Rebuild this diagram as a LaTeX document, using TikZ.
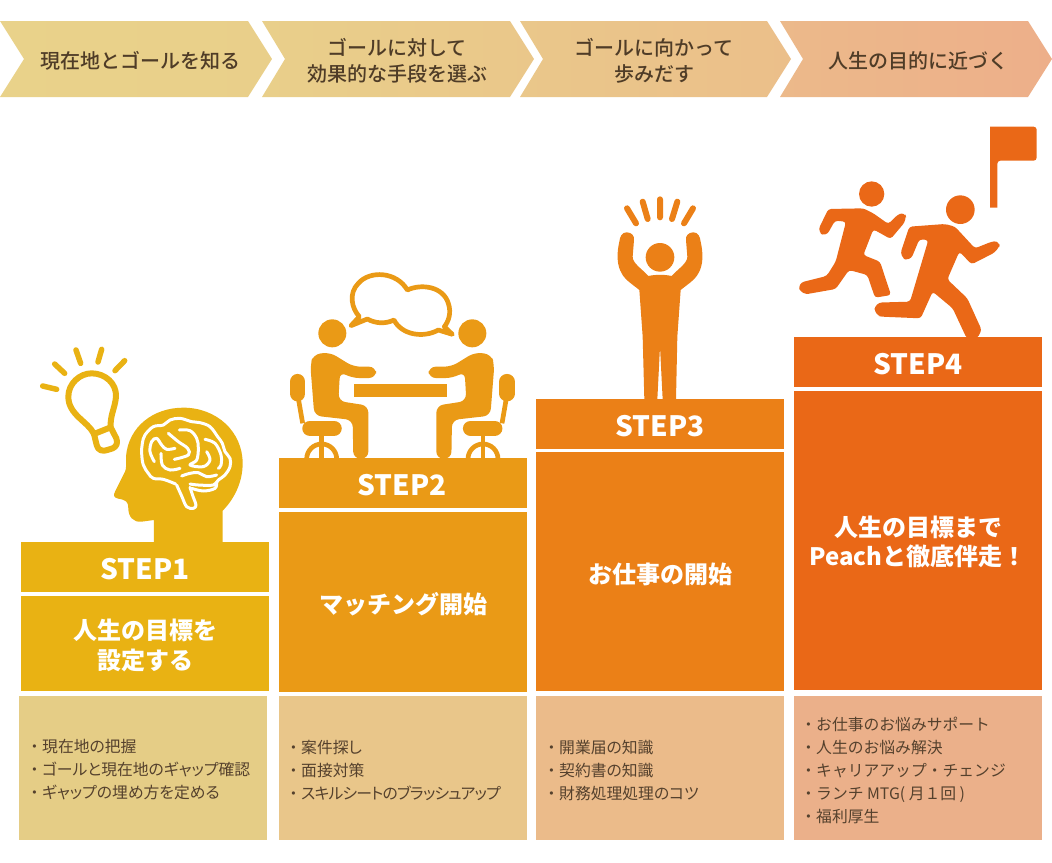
\documentclass[tikz,border=0pt]{standalone}
\usepackage{fontspec}
\setmainfont{Noto Sans CJK JP}
\newfontfamily\medfont{Noto Sans CJK JP Medium}
\newfontfamily\listfont{Noto Sans CJK JP}[RawFeature=+palt]
\newfontfamily\tightfont{Noto Sans CJK JP}[RawFeature=+palt,LetterSpace=-5]
\definecolor{cA}{HTML}{E9B213}
\definecolor{cB}{HTML}{EA9A16}
\definecolor{cC}{HTML}{EB8017}
\definecolor{cD}{HTML}{EA6817}
\definecolor{lA}{HTML}{E5CD86}
\definecolor{lB}{HTML}{E9C68A}
\definecolor{lC}{HTML}{EBBB8A}
\definecolor{lD}{HTML}{EBB08A}
\definecolor{txt}{HTML}{4F3C27}
\definecolor{ltxt}{HTML}{55412D}
\definecolor{gA}{HTML}{E9D28A}
\definecolor{gB}{HTML}{E9CF8A}
\definecolor{gC}{HTML}{EAC78A}
\definecolor{gD}{HTML}{EBBF8A}
\definecolor{gE}{HTML}{ECB98A}
\definecolor{gF}{HTML}{EDAF8A}
\newcommand{\bul}{\makebox[15.5pt][c]{・}}
\tikzset{
  hdrbox/.style={minimum width=248pt,minimum height=50pt,inner sep=0pt,text=white,font=\fontsize{28}{28}\selectfont\bfseries},
  bodybox/.style={minimum width=248pt,inner sep=0pt,text=white,align=center,font=\fontsize{24}{29.5}\selectfont\bfseries},
  listbox/.style={minimum width=248pt,minimum height=144pt,inner sep=0pt},
  listtext/.style={anchor=west,inner sep=0pt,align=left,text=ltxt,font=\listfont\fontsize{15.8}{23}\selectfont},
  listfull/.style={listtext,font=\fontsize{15.8}{23}\selectfont},
  chevtext/.style={inner sep=0pt,align=center,text=txt,font=\medfont\fontsize{20}{26}\selectfont},
  rayline/.style={line width=6pt,line cap=round},
  brainline/.style={white,line width=3pt,line cap=round,line join=round},
  brainsmooth/.style={brainline,smooth,tension=.6},
  zoomA/.style={x=0.33333pt,y=-0.33333pt}
}
\newcommand{\seatedperson}{%
  \fill[cB] (157,205) circle[radius=42];
  \fill[cB,rounded corners=7pt] (91,300) -- (100,268) -- (150,262) -- (220,305) -- (288,305) -- (288,339) -- (215,339) -- (180,320) -- (175,408) -- (265,422) -- (265,581) -- (220,581) -- (218,465) -- (103,452) -- cycle;
  \draw[cB,line width=15.5pt,line cap=round] (53,350) -- (53,386);
  \draw[cB,line width=4.7pt] (55,400) -- (68,475);
  \draw[cB,line width=15.5pt,line cap=round] (90,490) -- (162,490);
  \draw[cB,line width=4.7pt] (125,510) -- (125,580);
  \draw[cB,line width=4.7pt] (80,582) arc[start angle=180,end angle=360,radius=45];
}
\begin{document}
\begin{tikzpicture}[x=1pt,y=-1pt]
\useasboundingbox (0,0) rectangle (1052,862);
% chevrons
\path[left color=gA,right color=gB] (0,21) -- (248,21) -- (272,59) -- (248,97) -- (0,97) -- (24,59) -- cycle;
\path[left color=gB,right color=gC] (262,21) -- (510,21) -- (534,59) -- (510,97) -- (262,97) -- (285,59) -- cycle;
\path[left color=gC,right color=gD] (520,21) -- (767,21) -- (791,59) -- (767,97) -- (520,97) -- (543,59) -- cycle;
\path[left color=gE,right color=gF] (780,21) -- (1028,21) -- (1052,59) -- (1028,97) -- (780,97) -- (803,59) -- cycle;
\node[chevtext] (t1) at (140,61) {現在地とゴールを知る};
\node[chevtext] (t2) at (397,61) {ゴールに対して\\効果的な手段を選ぶ};
\node[chevtext] (t3) at (654,61) {ゴールに向かって\\歩みだす};
\node[chevtext] (t4) at (918,61) {人生の目的に近づく};
% headers and bodies: boxes first, labels placed on them
\node[hdrbox,fill=cA] (h1) at (145,567) {};
\node[hdrbox,fill=cB] (h2) at (403,483) {};
\node[hdrbox,fill=cC] (h3) at (660,423.5) {};
\node[hdrbox,fill=cD] (h4) at (918,362) {};
\node[hdrbox,minimum height=0pt] (h1t) at (145,569) {STEP1};
\node[hdrbox,minimum height=0pt] (h2t) at (402,485) {STEP2};
\node[hdrbox,minimum height=0pt] (h3t) at (660,426) {STEP3};
\node[hdrbox,minimum height=0pt] (h4t) at (918,364) {STEP4};
\node[bodybox,fill=cA,minimum height=95pt] (b1) at (145,643.5) {};
\node[bodybox,fill=cB,minimum height=180pt] (b2) at (403,602) {};
\node[bodybox,fill=cC,minimum height=239pt] (b3) at (660,571.5) {};
\node[bodybox,fill=cD,minimum height=299pt] (b4) at (918,540.5) {};
\node[bodybox] (b1t) at (145,645.5) {人生の目標を\\設定する};
\node[bodybox] (b2t) at (403,604) {マッチング開始};
\node[bodybox] (b3t) at (660,574) {お仕事の開始};
\node[bodybox] (b4t) at (918,542) {人生の目標まで\\Peachと徹底伴走！};
% lists
\node[listbox,fill=lA] (l1) at (143,768) {};
\node[listbox,fill=lB] (l2) at (402.5,768) {};
\node[listbox,fill=lC] (l3) at (660,768) {};
\node[listbox,fill=lD] (l4) at (918,768) {};
\node[listtext] (l1t) at (26.5,770) {\bul 現在地の把握\\\bul ゴールと現在地のギャップ確認\\\bul ギャップの埋め方を定める};
\node[listtext] (l2t) at (285.5,770) {\bul 案件探し\\\bul 面接対策\\\bul {\tightfont スキルシートのブラッシュアップ}};
\node[listtext] (l3t) at (543.5,770) {\bul 開業届の知識\\\bul 契約書の知識\\\bul 財務処理処理のコツ};
\node[listfull] (l4t) at (800.5,770) {\bul お仕事のお悩みサポート\\\bul 人生のお悩み解決\\\bul キャリアアップ・チェンジ\\\bul ランチ MTG( 月１回 )\\\bul 福利厚生};
% icon 1
\begin{scope}[shift={(20,340)},zoomA]
  \draw[cA,rayline,line width=5.5pt] (68,138) -- (110,148) (104,72) -- (134,100) (168,30) -- (182,70) (245,28) -- (234,66) (314,62) -- (285,92);
  \draw[cA,line width=6pt,line join=round] (222,282) .. controls (205,245) and (145,225) .. (145,170) .. controls (145,130) and (180,100) .. (215,100) .. controls (255,100) and (290,130) .. (288,170) .. controls (285,205) and (270,225) .. (272,262) -- cycle;
  \draw[cA,line width=6pt,line join=round] (222,282) -- (230,315) .. controls (233,332) and (250,335) .. (262,330) -- (278,325) .. controls (290,320) and (294,308) .. (289,295) -- (272,262);
  \fill[cA] (402,610) -- (402,540) -- (365,545) .. controls (340,548) and (325,530) .. (325,505) .. controls (325,485) and (318,480) .. (295,476) .. controls (280,473) and (280,465) .. (285,455) -- (315,395) .. controls (320,385) and (318,370) .. (318,350) .. controls (325,260) and (400,203) .. (490,203) .. controls (590,203) and (668,275) .. (668,370) .. controls (668,430) and (640,480) .. (608,512) -- (608,610) -- cycle;
\end{scope}
% brain
\begin{scope}[shift={(135,410)},zoomA]
  \draw[brainline] plot[smooth,tension=.6] coordinates {(122,222) (85,208) (55,205) (40,190) (25,165) (20,130) (22,100) (30,75) (55,50) (85,45) (105,30) (135,25) (170,35) (195,38) (225,50) (248,80) (262,100) (270,125) (285,145) (285,170) (270,195) (250,210) (235,225) (190,225) (165,222)};
  \draw[brainline] plot[smooth,tension=.6] coordinates {(245,215) (240,235) (205,243) (170,235)};
  \draw[brainline] plot[smooth,tension=.6] coordinates {(125,225) (140,258) (155,290) (175,295) (183,285) (175,262) (165,232)};
  \draw[brainline] plot[smooth,tension=.6] coordinates {(100,70) (130,95) (158,115) (160,135) (118,148)};
  \draw[brainline] plot[smooth,tension=.6] coordinates {(133,60) (165,62) (185,85) (190,115) (185,150) (165,165) (205,170) (225,150) (215,125)};
  \draw[brainline] plot[smooth,tension=.6] coordinates {(58,155) (45,125) (50,95) (65,85) (80,105) (95,118) (120,115)};
  \draw[brainline] plot[smooth,tension=.6] coordinates {(78,130) (82,165) (105,180) (135,175)};
  \draw[brainline] plot[smooth,tension=.6] coordinates {(140,198) (165,190) (190,188) (215,200) (245,195)};
  \draw[brainline] plot[smooth,tension=.6] coordinates {(210,88) (240,100) (258,135) (258,165) (250,175)};
\end{scope}
% icon 2
\begin{scope}[shift={(280,265)},zoomA]
  \draw[cB,line width=4.7pt,line join=round] (213,182) -- (238,155) .. controls (215,130) and (205,85) .. (235,55) .. controls (270,15) and (350,20) .. (382,75) .. controls (425,55) and (490,65) .. (505,115) .. controls (515,145) and (505,170) .. (493,185) -- (517,208) -- (475,195) .. controls (430,220) and (365,210) .. (342,165) .. controls (315,178) and (285,175) .. (262,162) -- cycle;
  \fill[cB] (222,358) rectangle (500,396);
  \seatedperson
\end{scope}
\begin{scope}[shift={(524.67,265)},x=-0.33333pt,y=-0.33333pt]
  \seatedperson
\end{scope}
% icon 3
\begin{scope}[shift={(600,190)},zoomA]
  \draw[cC,rayline] (81,55) -- (108,100) (128,35) -- (143,87) (180,28) -- (180,82) (232,35) -- (216,87) (279,55) -- (252,100);
  \fill[cC] (180,202) circle[radius=43];
  \fill[cC] (80,127) .. controls (65,127) and (60,140) .. (58,155) .. controls (50,190) and (50,225) .. (65,250) .. controls (75,270) and (100,285) .. (118,300) -- (128,440) -- (133,628) -- (172,628) -- (180,470) -- (188,628) -- (228,628) -- (232,440) -- (242,300) .. controls (260,285) and (285,270) .. (295,250) .. controls (310,225) and (310,190) .. (302,155) .. controls (300,140) and (295,127) .. (280,127) .. controls (265,127) and (256,138) .. (258,150) -- (262,200) .. controls (263,220) and (230,240) .. (215,258) .. controls (190,253) and (170,253) .. (145,258) .. controls (130,240) and (97,220) .. (98,200) -- (102,150) .. controls (104,138) and (95,127) .. (80,127) -- cycle;
\end{scope}
% icon 4
\begin{scope}[shift={(790,120)},zoomA]
  \fill[cD,rounded corners=3pt] (600,20) -- (740,20) -- (740,122) -- (622,122) [sharp corners] -- (622,263) -- (600,263) -- cycle;
  \fill[cD] (245,222) circle[radius=38];
  \fill[cD] (511,269) circle[radius=43];
  \fill[cD,rounded corners=3pt] (115,267) -- (220,265) -- (250,280) -- (295,312) -- (322,285) [rounded corners=6pt] -- (345,275) -- (350,300) [rounded corners=3pt] -- (302,357) -- (250,328) -- (220,405) -- (270,425) -- (303,525) -- (255,533) -- (232,465) -- (177,450) -- (137,507) [rounded corners=7pt] -- (35,525) -- (22,490) [rounded corners=3pt] -- (110,468) -- (137,425) -- (168,305) -- (135,302) [rounded corners=6pt] -- (108,350) -- (82,335) [rounded corners=3pt] -- cycle;
  \fill[cD,rounded corners=3pt] (358,320) -- (465,312) -- (495,320) -- (555,385) -- (605,365) [rounded corners=7pt] -- (632,362) -- (625,392) [rounded corners=3pt] -- (545,433) -- (508,395) -- (472,478) -- (532,535) -- (575,630) -- (562,655) -- (530,655) -- (488,565) -- (428,515) -- (392,595) -- (275,590) [rounded corners=7pt] -- (253,585) -- (255,548) [rounded corners=3pt] -- (360,545) -- (415,360) -- (388,358) [rounded corners=7pt] -- (360,425) -- (328,410) [rounded corners=3pt] -- cycle;
\end{scope}
\end{tikzpicture}
\end{document}
